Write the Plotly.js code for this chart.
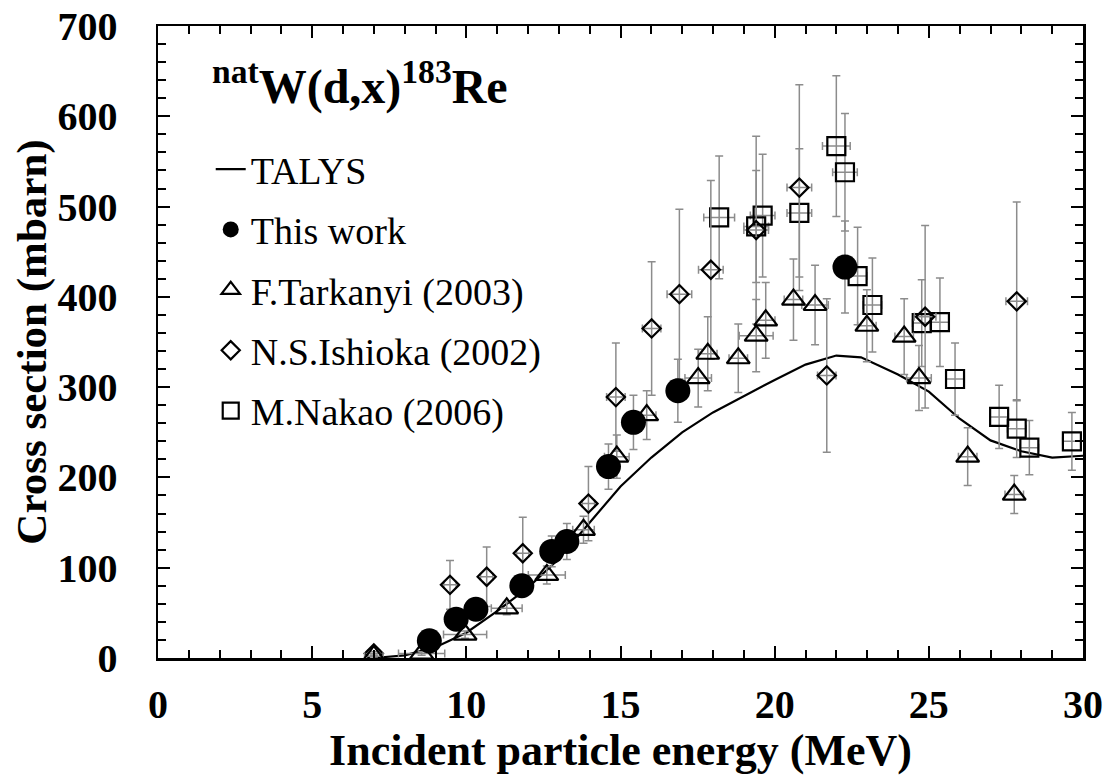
<!DOCTYPE html>
<html>
<head>
<meta charset="utf-8">
<script src="https://cdn.plot.ly/plotly-3.0.1.min.js"></script>
<style>
  html, body { margin: 0; padding: 0; background: #fff; }
  #chart { width: 1107px; height: 775px; }
</style>
</head>
<body>
<div id="chart"></div>
<script>
// ---- Data ----
// TALYS calculation
const talysE   = [7, 8, 9, 10, 11, 12, 13, 14, 15, 16, 17, 18, 19, 20, 21, 22, 22.8, 24, 25, 26, 27, 28, 29, 30];
const talysSig = [0, 3, 12, 28, 52, 78, 110, 150, 190, 222, 250, 272, 290, 308, 325, 335, 333, 314, 295, 265, 241, 229, 222, 224];

// This work (filled circles)
const thisE    = [8.8, 9.67, 10.31, 11.8, 12.77, 13.26, 14.61, 15.42, 16.86, 22.28];
const thisSig  = [19, 43, 54, 80, 118, 129, 212, 261, 296, 433];
const thisErr  = [5, 8, 9, 12, 17, 20, 25, 30, 35, 51];

// F.Tarkanyi (2003) (open triangles)
const tarE     = [7.0, 8.55, 9.96, 11.31, 12.61, 13.8, 14.88, 15.85, 17.52, 17.83, 18.82, 19.4, 19.71, 20.61, 21.31, 22.99, 24.2, 24.68, 26.26, 27.77];
const tarSig   = [2, 5, 26, 55, 92, 142, 223, 269, 310, 337, 332, 357, 374, 397, 391, 368, 356, 310, 223, 181];
const tarErr   = [1, 2, 4, 7, 10, 15, 24, 27, 32, 41, 38, 40, 42, 45, 44, 40, 42, 36, 32, 21];
const tarErrE  = [0.3, 0.75, 0.7, 0.5, 0.6, 0.35, 0.4, 0.3, 0.43, 0.3, 0.3, 0.55, 0.3, 0.3, 0.43, 0.3, 0.3, 0.4, 0.3, 0.3];

// N.S.Ishioka (2002) (open diamonds)
const ishE     = [7.0, 9.47, 10.66, 11.83, 13.96, 14.85, 16.01, 16.91, 17.93, 19.4, 20.8, 21.69, 24.88, 27.85];
const ishSig   = [5, 81, 90, 116, 171, 289, 365, 403, 430, 474, 521, 313, 378, 395];
const ishErr   = [2, 27, 33, 40, 41, 60, 74, 94, 99, 104, 114, 85, 101, 110];
const ishErrE  = [0.2, 0.2, 0.2, 0.2, 0.2, 0.3, 0.3, 0.4, 0.4, 0.4, 0.4, 0.3, 0.35, 0.35];

// M.Nakao (2006) (open squares)
const nakE     = [18.2, 19.4, 19.61, 20.8, 22.0, 22.28, 22.69, 23.17, 24.77, 25.36, 25.85, 27.28, 27.85, 28.26, 29.64];
const nakSig   = [488, 478, 490, 493, 567, 538, 423, 391, 371, 372, 309, 267, 254, 233, 240];
const nakErr   = [68, 62, 68, 71, 78, 65, 54, 52, 48, 49, 40, 35, 32, 30, 32];
const nakErrE  = [0.5, 0.4, 0.4, 0.4, 0.45, 0.4, 0.3, 0.3, 0.3, 0.3, 0.3, 0.3, 0.3, 0.3, 0.3];

// ---- Styling ----
const SERIF = 'Liberation Serif, Times New Roman, serif';
const ERRC = '#8c8c8c';
function errBar(arr) { return {type: 'data', array: arr, visible: true, color: ERRC, thickness: 1.5, width: 4}; }

const traces = [
  {
    name: 'TALYS', x: talysE, y: talysSig, type: 'scatter', mode: 'lines',
    line: {color: '#000', width: 2.2}, legendrank: 1, legendgroup: 'g1'
  },
  {
    name: 'M.Nakao (2006)', x: nakE, y: nakSig, type: 'scatter', mode: 'markers',
    error_y: errBar(nakErr), error_x: errBar(nakErrE),
    marker: {symbol: 'square-open', size: 18, color: '#000', line: {color: '#000', width: 2.2}},
    legendrank: 5, legendgroup: 'g5'
  },
  {
    name: 'N.S.Ishioka (2002)', x: ishE, y: ishSig, type: 'scatter', mode: 'markers',
    error_y: errBar(ishErr), error_x: errBar(ishErrE),
    marker: {symbol: 'diamond-open', size: 14, color: '#000', line: {color: '#000', width: 2.2}},
    legendrank: 4, legendgroup: 'g4'
  },
  {
    name: 'F.Tarkanyi (2003)', x: tarE, y: tarSig, type: 'scatter', mode: 'markers',
    error_y: errBar(tarErr), error_x: errBar(tarErrE),
    marker: {symbol: 'triangle-up-open', size: 20, color: '#000', line: {color: '#000', width: 2.2}},
    legendrank: 3, legendgroup: 'g3'
  },
  {
    name: 'This work', x: thisE, y: thisSig, type: 'scatter', mode: 'markers',
    error_y: errBar(thisErr),
    marker: {symbol: 'circle', size: 25, color: '#000', line: {width: 0}},
    legendrank: 2, legendgroup: 'g2'
  }
];

const axisCommon = {
  showgrid: false, zeroline: false,
  showline: true, linecolor: '#000', linewidth: 2.5, mirror: 'allticks',
  ticks: 'inside', ticklen: 12, tickwidth: 2, tickcolor: '#000',
  tickfont: {family: SERIF, size: 40, color: '#000', weight: 'bold'}
};

const layout = {
  width: 1107, height: 775,
  margin: {l: 158, r: 24, t: 26, b: 117},
  showlegend: true,
  legend: {
    x: 0.057, y: 0.823, xanchor: 'left', yanchor: 'top',
    bgcolor: 'rgba(0,0,0,0)', borderwidth: 0,
    font: {family: SERIF, size: 38, color: '#000'},
    traceorder: 'grouped', tracegroupgap: 8
  },
  xaxis: Object.assign({}, axisCommon, {
    range: [0, 30], dtick: 5, tick0: 0,
    minor: {dtick: 1, ticks: 'inside', ticklen: 8, tickwidth: 2, tickcolor: '#000'},
    ticklabelstandoff: 9,
    title: {text: 'Incident particle energy (MeV)', font: {family: SERIF, size: 44, color: '#000', weight: 'bold'}}
  }),
  yaxis: Object.assign({}, axisCommon, {
    range: [0, 700], dtick: 100, tick0: 0,
    minor: {dtick: 20, ticks: 'inside', ticklen: 8, tickwidth: 2, tickcolor: '#000'},
    ticklabelstandoff: 30,
    title: {text: 'Cross section (mbarn)', font: {family: SERIF, size: 43, color: '#000', weight: 'bold'}}
  }),
  annotations: [{
    xref: 'paper', yref: 'paper', x: 0.056, y: 0.96, xanchor: 'left', yanchor: 'top',
    text: '<b><sup>nat</sup>W(d,x)<sup>183</sup>Re</b>', showarrow: false,
    font: {family: SERIF, size: 48, color: '#000'}
  }]
};

Plotly.newPlot('chart', traces, layout, {displayModeBar: false, staticPlot: true});
</script>
</body>
</html>
